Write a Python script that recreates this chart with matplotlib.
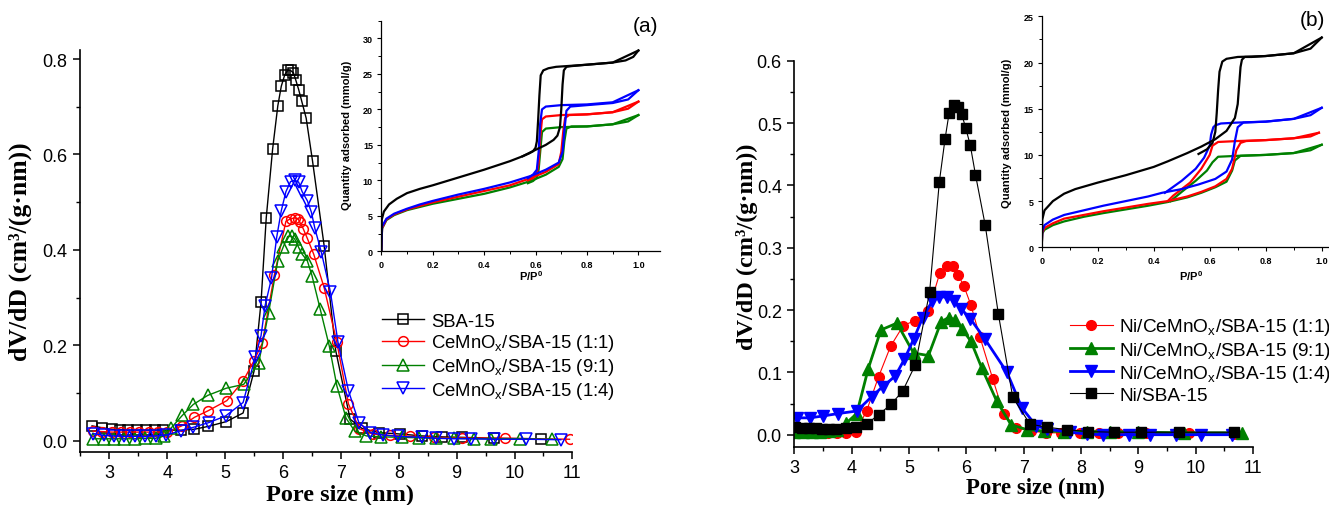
import matplotlib
matplotlib.use("Agg")
import matplotlib.pyplot as plt
from matplotlib.ticker import MultipleLocator, FixedLocator

plt.rcParams['font.family'] = ['Liberation Sans', 'DejaVu Sans']
plt.rcParams['mathtext.fontset'] = 'custom'
plt.rcParams['mathtext.rm'] = 'Liberation Sans'
plt.rcParams['mathtext.bf'] = 'Liberation Sans:bold'
plt.rcParams['mathtext.default'] = 'regular'

# ---------------- panel (a): pore size distribution ----------------
a_sba_x = [2.70, 2.88, 3.04, 3.18, 3.33, 3.48, 3.63, 3.78, 3.93, 4.24, 4.47, 4.71, 5.02, 5.31,
           5.50, 5.62, 5.71, 5.82, 5.91, 5.97, 6.03, 6.08, 6.13, 6.18, 6.22, 6.27, 6.32, 6.40,
           6.51, 6.71, 6.91, 7.16, 7.36, 7.65, 8.02, 8.40, 8.75, 9.10, 9.65, 10.45]
a_sba_y = [0.031, 0.027, 0.024, 0.023, 0.022, 0.022, 0.022, 0.022, 0.022, 0.022, 0.024, 0.030,
           0.040, 0.058, 0.146, 0.290, 0.467, 0.611, 0.702, 0.743, 0.767, 0.776, 0.776, 0.771,
           0.756, 0.736, 0.713, 0.676, 0.586, 0.409, 0.189, 0.045, 0.026, 0.017, 0.014, 0.010,
           0.008, 0.007, 0.005, 0.004]

a_11_x = [2.72, 2.88, 3.04, 3.20, 3.36, 3.52, 3.68, 3.84, 4.00, 4.25, 4.47, 4.71, 5.03, 5.31,
          5.50, 5.64, 5.85, 6.05, 6.13, 6.20, 6.26, 6.29, 6.35, 6.42, 6.53, 6.71, 6.93, 7.13,
          7.32, 7.55, 7.85, 8.20, 8.60, 9.10, 9.84, 10.95]
a_11_y = [0.020, 0.019, 0.018, 0.018, 0.018, 0.018, 0.018, 0.018, 0.018, 0.031, 0.049, 0.063,
          0.084, 0.125, 0.168, 0.204, 0.347, 0.460, 0.465, 0.467, 0.465, 0.458, 0.444, 0.424,
          0.391, 0.321, 0.206, 0.077, 0.025, 0.014, 0.011, 0.009, 0.007, 0.006, 0.005, 0.003]

a_91_x = [2.72, 2.90, 3.08, 3.26, 3.44, 3.62, 3.80, 3.95, 4.07, 4.26, 4.45, 4.70, 5.02, 5.32,
          5.58, 5.75, 5.91, 6.00, 6.08, 6.15, 6.20, 6.27, 6.33, 6.42, 6.50, 6.64, 6.80, 6.93,
          7.09, 7.24, 7.44, 7.70, 8.05, 8.35, 8.65, 8.95, 9.30, 9.60, 10.10, 10.65]
a_91_y = [0.004, 0.004, 0.004, 0.004, 0.004, 0.005, 0.005, 0.010, 0.027, 0.053, 0.076, 0.095,
          0.110, 0.118, 0.163, 0.268, 0.377, 0.405, 0.428, 0.428, 0.423, 0.405, 0.391, 0.377,
          0.346, 0.277, 0.198, 0.115, 0.047, 0.020, 0.010, 0.008, 0.007, 0.006, 0.005, 0.005,
          0.004, 0.004, 0.004, 0.003]

a_14_x = [2.72, 2.90, 3.08, 3.26, 3.44, 3.62, 3.80, 3.98, 4.24, 4.45, 4.72, 5.01, 5.31, 5.52,
          5.62, 5.69, 5.80, 5.89, 5.97, 6.05, 6.13, 6.20, 6.27, 6.33, 6.42, 6.49, 6.55, 6.66,
          6.82, 6.95, 7.13, 7.31, 7.51, 7.72, 7.98, 8.40, 8.65, 8.95, 9.25, 9.65, 10.20, 10.80]
a_14_y = [0.015, 0.011, 0.010, 0.009, 0.009, 0.009, 0.010, 0.012, 0.021, 0.028, 0.038, 0.052,
          0.080, 0.175, 0.220, 0.283, 0.340, 0.426, 0.482, 0.522, 0.543, 0.546, 0.542, 0.522,
          0.503, 0.479, 0.445, 0.396, 0.311, 0.206, 0.105, 0.038, 0.017, 0.012, 0.009, 0.007,
          0.005, 0.004, 0.004, 0.003, 0.003, 0.002]

# inset (a): isotherms, adsorption (ads) and desorption (des) branches
ia_blk_ads_p = [0, 0.002, 0.01, 0.03, 0.06, 0.10, 0.15, 0.20, 0.30, 0.40, 0.50, 0.55, 0.60, 0.64,
                0.67, 0.685, 0.695, 0.700, 0.705, 0.710, 0.720, 0.740, 0.80, 0.90, 0.95, 0.98, 1.0]
ia_blk_ads_q = [0, 4.5, 5.6, 6.6, 7.4, 8.2, 8.8, 9.3, 10.4, 11.5, 12.7, 13.4, 14.3, 15.0, 15.7,
                16.3, 17.5, 20.0, 23.5, 25.5, 26.0, 26.1, 26.3, 26.6, 26.9, 27.4, 28.3]
ia_blk_des_p = [1.0, 0.90, 0.80, 0.72, 0.68, 0.65, 0.63, 0.62, 0.615, 0.61, 0.605, 0.60, 0.59,
                0.575, 0.55]
ia_blk_des_q = [28.3, 26.6, 26.3, 26.1, 26.0, 25.8, 25.5, 24.8, 22.0, 18.5, 15.5, 14.6, 14.1,
                13.8, 13.4]

ia_blu_ads_p = [0, 0.003, 0.02, 0.05, 0.10, 0.15, 0.20, 0.30, 0.40, 0.50, 0.58, 0.64, 0.69,
                0.705, 0.712, 0.720, 0.735, 0.80, 0.90, 0.96, 1.0]
ia_blu_ads_q = [0, 3.5, 4.6, 5.3, 6.0, 6.6, 7.1, 8.0, 8.8, 9.7, 10.6, 11.5, 12.5, 14.0, 17.0,
                19.8, 20.4, 20.6, 20.9, 21.4, 22.7]
ia_blu_des_p = [1.0, 0.90, 0.80, 0.70, 0.64, 0.625, 0.618, 0.612, 0.605, 0.59, 0.57]
ia_blu_des_q = [22.7, 21.0, 20.7, 20.6, 20.4, 20.0, 18.0, 14.0, 11.5, 10.8, 10.3]

ia_red_ads_p = [0, 0.003, 0.02, 0.05, 0.10, 0.20, 0.30, 0.40, 0.50, 0.58, 0.64, 0.69, 0.700,
                0.708, 0.715, 0.730, 0.80, 0.90, 0.96, 1.0]
ia_red_ads_q = [0, 3.3, 4.5, 5.2, 5.9, 6.9, 7.7, 8.5, 9.3, 10.3, 11.2, 12.3, 14.0, 17.0, 18.8,
                19.2, 19.3, 19.6, 20.1, 21.1]
ia_red_des_p = [1.0, 0.90, 0.80, 0.70, 0.64, 0.625, 0.618, 0.612, 0.605, 0.59, 0.57]
ia_red_des_q = [21.1, 19.6, 19.3, 19.2, 19.0, 18.6, 16.0, 12.5, 11.0, 10.3, 10.0]

ia_grn_ads_p = [0, 0.003, 0.02, 0.05, 0.10, 0.20, 0.30, 0.40, 0.50, 0.58, 0.64, 0.69, 0.705,
                0.712, 0.720, 0.740, 0.80, 0.90, 0.96, 1.0]
ia_grn_ads_q = [0, 3.2, 4.4, 5.1, 5.8, 6.7, 7.4, 8.1, 9.0, 9.9, 10.8, 11.9, 13.0, 15.5, 17.3,
                17.6, 17.6, 17.9, 18.3, 19.2]
ia_grn_des_p = [1.0, 0.90, 0.80, 0.70, 0.64, 0.625, 0.618, 0.612, 0.605, 0.59, 0.57]
ia_grn_des_q = [19.2, 17.9, 17.6, 17.5, 17.3, 16.8, 14.0, 11.5, 10.4, 9.9, 9.6]

# ---------------- panel (b): pore size distribution ----------------
b_11_x = [3.59, 3.74, 3.90, 4.07, 4.26, 4.47, 4.68, 4.90, 5.10, 5.34, 5.54, 5.66, 5.76, 5.86,
          5.96, 6.08, 6.24, 6.46, 6.65, 6.87, 7.12, 7.39, 7.65, 7.98, 8.32, 8.65, 9.14, 9.88, 10.66]
b_11_y = [0.002, 0.002, 0.002, 0.004, 0.038, 0.093, 0.142, 0.175, 0.183, 0.199, 0.260, 0.271,
          0.270, 0.256, 0.238, 0.208, 0.156, 0.090, 0.034, 0.011, 0.006, 0.003, 0.003, 0.002,
          0.002, 0.002, 0.002, 0.002, 0.001]

b_91_x = [3.00, 3.15, 3.30, 3.45, 3.60, 3.75, 3.90, 4.09, 4.29, 4.51, 4.79, 5.08, 5.34, 5.56,
          5.69, 5.81, 5.93, 6.08, 6.27, 6.53, 6.78, 7.06, 7.35, 7.70, 8.10, 8.50, 9.00, 9.80, 10.81]
b_91_y = [0.005, 0.005, 0.005, 0.005, 0.006, 0.008, 0.018, 0.034, 0.106, 0.168, 0.179, 0.131,
          0.127, 0.181, 0.188, 0.184, 0.169, 0.150, 0.107, 0.054, 0.016, 0.008, 0.006, 0.005,
          0.005, 0.005, 0.004, 0.003, 0.003]

b_14_x = [3.04, 3.27, 3.50, 3.77, 4.09, 4.35, 4.54, 4.76, 4.92, 5.08, 5.24, 5.41, 5.53, 5.66,
          5.79, 5.91, 6.07, 6.32, 6.71, 6.97, 7.22, 7.41, 7.80, 8.10, 8.39, 8.84, 9.21, 9.66,
          10.10, 10.63]
b_14_y = [0.027, 0.027, 0.030, 0.034, 0.038, 0.061, 0.077, 0.094, 0.121, 0.153, 0.188, 0.215,
          0.221, 0.221, 0.215, 0.202, 0.186, 0.154, 0.100, 0.043, 0.014, 0.009, 0.004, 0.001,
          0.0, 0.0, 0.0, 0.0, 0.0, 0.0]

b_ni_x = [3.02, 3.13, 3.25, 3.37, 3.49, 3.61, 3.73, 3.90, 4.08, 4.26, 4.47, 4.69, 4.89, 5.11,
          5.36, 5.53, 5.63, 5.70, 5.79, 5.86, 5.92, 5.99, 6.07, 6.16, 6.33, 6.56, 6.81, 7.11,
          7.41, 7.76, 8.13, 8.57, 9.04, 9.71, 10.67]
b_ni_y = [0.013, 0.011, 0.010, 0.010, 0.009, 0.009, 0.009, 0.010, 0.012, 0.017, 0.032, 0.049,
          0.070, 0.112, 0.229, 0.406, 0.475, 0.516, 0.529, 0.526, 0.514, 0.492, 0.464, 0.417,
          0.336, 0.193, 0.060, 0.017, 0.012, 0.008, 0.005, 0.004, 0.004, 0.004, 0.004]

# inset (b)
ib_blk_ads_p = [0, 0.002, 0.01, 0.04, 0.08, 0.12, 0.20, 0.30, 0.40, 0.45, 0.52, 0.57, 0.62,
                0.66, 0.69, 0.700, 0.705, 0.710, 0.715, 0.725, 0.75, 0.80, 0.90, 0.96, 1.0]
ib_blk_ads_q = [0, 3.0, 4.0, 5.0, 5.8, 6.3, 7.0, 7.8, 8.7, 9.3, 10.2, 10.9, 11.7, 12.6, 14.0,
                15.5, 17.5, 19.5, 20.3, 20.6, 20.6, 20.7, 21.0, 21.5, 22.7]
ib_blk_des_p = [1.0, 0.90, 0.80, 0.70, 0.66, 0.645, 0.635, 0.63, 0.625, 0.62, 0.61, 0.59, 0.56]
ib_blk_des_q = [22.7, 21.0, 20.7, 20.6, 20.4, 20.1, 19.0, 17.0, 14.5, 12.5, 11.3, 10.6, 10.1]

ib_blu_ads_p = [0, 0.002, 0.01, 0.04, 0.08, 0.15, 0.22, 0.30, 0.38, 0.43, 0.50, 0.56, 0.62,
                0.66, 0.68, 0.69, 0.70, 0.72, 0.80, 0.90, 0.96, 1.0]
ib_blu_ads_q = [0, 1.8, 2.4, 3.0, 3.5, 4.0, 4.5, 5.0, 5.5, 5.9, 6.3, 6.8, 7.4, 8.2, 9.5, 11.5,
                13.0, 13.5, 13.6, 13.9, 14.3, 15.1]
ib_blu_des_p = [1.0, 0.90, 0.80, 0.70, 0.64, 0.62, 0.613, 0.605, 0.60, 0.58, 0.55, 0.50, 0.44]
ib_blu_des_q = [15.1, 13.9, 13.6, 13.5, 13.4, 13.2, 13.0, 12.2, 11.0, 9.7, 8.5, 7.2, 5.9]

ib_red_ads_p = [0, 0.002, 0.01, 0.04, 0.08, 0.15, 0.22, 0.30, 0.38, 0.45, 0.52, 0.57, 0.62,
                0.66, 0.68, 0.695, 0.71, 0.73, 0.80, 0.90, 0.96, 0.99]
ib_red_ads_q = [0, 1.6, 2.1, 2.6, 3.1, 3.5, 3.9, 4.3, 4.7, 5.0, 5.5, 6.0, 6.6, 7.4, 8.5, 10.5,
                11.3, 11.5, 11.6, 11.8, 12.0, 12.4]
ib_red_des_p = [0.99, 0.90, 0.80, 0.70, 0.63, 0.61, 0.60, 0.57, 0.53, 0.47, 0.45]
ib_red_des_q = [12.4, 11.8, 11.6, 11.5, 11.4, 11.0, 10.0, 8.5, 7.0, 5.6, 5.0]

ib_grn_ads_p = [0, 0.002, 0.01, 0.04, 0.08, 0.15, 0.22, 0.30, 0.38, 0.45, 0.52, 0.57, 0.62,
                0.66, 0.68, 0.69, 0.71, 0.80, 0.90, 0.96, 1.0]
ib_grn_ads_q = [0, 1.5, 1.9, 2.4, 2.8, 3.3, 3.7, 4.1, 4.5, 4.9, 5.4, 5.9, 6.5, 7.1, 8.3, 9.4,
                9.9, 10.0, 10.2, 10.5, 11.1]
ib_grn_des_p = [1.0, 0.90, 0.80, 0.70, 0.63, 0.61, 0.59, 0.55, 0.50, 0.46]
ib_grn_des_q = [11.1, 10.2, 10.0, 9.9, 9.8, 9.2, 8.3, 7.2, 6.0, 5.0]

a_labels = ['SBA-15', 'CeMnO$_{x}$/SBA-15 (1:1)', 'CeMnO$_{x}$/SBA-15 (9:1)',
            'CeMnO$_{x}$/SBA-15 (1:4)']
b_labels = ['Ni/CeMnO$_{x}$/SBA-15 (1:1)', 'Ni/CeMnO$_{x}$/SBA-15 (9:1)',
            'Ni/CeMnO$_{x}$/SBA-15 (1:4)', 'Ni/SBA-15']

W, H = 1329, 506
fig = plt.figure(figsize=(W / 100, H / 100), dpi=100)


def px_axes(left, top, right, bottom):
    return fig.add_axes([left / W, 1 - bottom / H, (right - left) / W, (bottom - top) / H])


def style_main(ax):
    for s in ['top', 'right']:
        ax.spines[s].set_visible(False)
    for s in ['left', 'bottom']:
        ax.spines[s].set_linewidth(1.2)
    ax.tick_params(which='major', direction='out', length=5, width=1.1, labelsize=13, pad=4)
    ax.tick_params(which='minor', direction='out', length=3, width=1.0)


def style_inset(ax):
    ax.set_facecolor('none')
    for s in ['top', 'right']:
        ax.spines[s].set_visible(False)
    for s in ['left', 'bottom']:
        ax.spines[s].set_linewidth(0.9)
    ax.tick_params(which='major', direction='out', length=3, width=0.8, labelsize=6.5, pad=3)
    ax.tick_params(which='minor', direction='out', length=2, width=0.7)
    for lab in ax.get_xticklabels() + ax.get_yticklabels():
        lab.set_fontweight('bold')


serif_bold = dict(family='Liberation Serif', fontweight='bold')

# ---- panel (a)
axa = px_axes(80, 50.7, 572.4, 452.7)
mk = dict(mfc='none', mew=1.1, lw=1.0)
axa.plot(a_sba_x, a_sba_y, color='black', marker='s', ms=6.5, label=a_labels[0], **mk)
axa.plot(a_11_x, a_11_y, color='red', marker='o', ms=7, label=a_labels[1], **mk)
axa.plot(a_91_x, a_91_y, color='green', marker='^', ms=8, label=a_labels[2], **mk)
axa.plot(a_14_x, a_14_y, color='blue', marker='v', ms=8, label=a_labels[3], **mk)
axa.set_xlim(2.492, 11)
axa.set_ylim(-0.0231, 0.8195)
axa.xaxis.set_major_locator(MultipleLocator(1))
axa.xaxis.set_minor_locator(MultipleLocator(0.5))
axa.yaxis.set_major_locator(MultipleLocator(0.2))
axa.yaxis.set_minor_locator(MultipleLocator(0.1))
axa.yaxis.set_major_formatter(matplotlib.ticker.FormatStrFormatter('%.1f'))
style_main(axa)
axa.legend(loc='center left', bbox_to_anchor=(382 / W, 1 - 357.7 / H), bbox_transform=fig.transFigure,
           frameon=False, borderpad=0, borderaxespad=0, handlelength=2.3, handletextpad=0.35,
           labelspacing=0.15, fontsize=13.3)
fig.text(20 / W, 1 - 252 / H, 'dV/dD (cm³/(g·nm))', rotation=90, ha='center', va='center',
         fontsize=18.5, **serif_bold)
fig.text(340 / W, 1 - 495 / H, 'Pore size (nm)', ha='center', va='center', fontsize=17.5,
         **serif_bold)

# ---- inset (a)
ina = px_axes(381.3, 21.7, 660, 252.3)
for pa, qa, pd, qd, c in [
        (ia_grn_ads_p, ia_grn_ads_q, ia_grn_des_p, ia_grn_des_q, 'green'),
        (ia_red_ads_p, ia_red_ads_q, ia_red_des_p, ia_red_des_q, 'red'),
        (ia_blu_ads_p, ia_blu_ads_q, ia_blu_des_p, ia_blu_des_q, 'blue'),
        (ia_blk_ads_p, ia_blk_ads_q, ia_blk_des_p, ia_blk_des_q, 'black')]:
    ina.plot(pa, qa, color=c, lw=1.6)
    ina.plot(pd, qd, color=c, lw=1.6)
ina.set_xlim(0, 1.084)
ina.set_ylim(0, 32.5)
ina.xaxis.set_major_locator(FixedLocator([0, 0.2, 0.4, 0.6, 0.8, 1.0]))
ina.xaxis.set_minor_locator(FixedLocator([0.1, 0.3, 0.5, 0.7, 0.9]))
ina.yaxis.set_major_locator(MultipleLocator(5))
ina.yaxis.set_minor_locator(MultipleLocator(2.5))
ina.set_xticklabels(['0', '0.2', '0.4', '0.6', '0.8', '1.0'])
style_inset(ina)
fig.text(347 / W, 1 - 135 / H, 'Quantity adsorbed (mmol/g)', rotation=90, ha='center', va='center',
         fontsize=8, fontweight='bold')
fig.text(531 / W, 1 - 276 / H, r'P/P$^{\mathbf{0}}$', ha='center', va='center', fontsize=8,
         fontweight='bold')
fig.text(646 / W, 1 - 26 / H, '(a)', ha='center', va='center', fontsize=15)

# ---- panel (b)
axb = px_axes(794.3, 61.7, 1253, 447.7)
axb.plot(b_11_x, b_11_y, color='red', marker='o', ms=7, lw=0.8, label=b_labels[0])
axb.plot(b_91_x, b_91_y, color='green', marker='^', ms=8, lw=2.0, label=b_labels[1])
axb.plot(b_14_x, b_14_y, color='blue', marker='v', ms=8, lw=2.0, label=b_labels[2])
axb.plot(b_ni_x, b_ni_y, color='black', marker='s', ms=6.5, lw=0.8, label=b_labels[3])
axb.set_xlim(3, 11)
axb.set_ylim(-0.01925, 0.6)
axb.xaxis.set_major_locator(MultipleLocator(1))
axb.xaxis.set_minor_locator(MultipleLocator(0.5))
axb.yaxis.set_major_locator(MultipleLocator(0.1))
axb.yaxis.set_minor_locator(MultipleLocator(0.05))
axb.yaxis.set_major_formatter(matplotlib.ticker.FormatStrFormatter('%.1f'))
style_main(axb)
axb.legend(loc='center left', bbox_to_anchor=(1069.6 / W, 1 - 361 / H), bbox_transform=fig.transFigure,
           frameon=False, borderpad=0, borderaxespad=0, handlelength=2.3, handletextpad=0.3,
           labelspacing=0.12, fontsize=13.7)
fig.text(747 / W, 1 - 247 / H, 'dV/dD (cm³/(g·nm))', rotation=90, ha='center', va='center',
         fontsize=17.5, **serif_bold)
fig.text(1035 / W, 1 - 488 / H, 'Pore size (nm)', ha='center', va='center', fontsize=16.5,
         **serif_bold)

# ---- inset (b)
inb = px_axes(1041.7, 17.3, 1329, 248.3)
for pa, qa, pd, qd, c in [
        (ib_grn_ads_p, ib_grn_ads_q, ib_grn_des_p, ib_grn_des_q, 'green'),
        (ib_red_ads_p, ib_red_ads_q, ib_red_des_p, ib_red_des_q, 'red'),
        (ib_blu_ads_p, ib_blu_ads_q, ib_blu_des_p, ib_blu_des_q, 'blue'),
        (ib_blk_ads_p, ib_blk_ads_q, ib_blk_des_p, ib_blk_des_q, 'black')]:
    inb.plot(pa, qa, color=c, lw=1.6)
    inb.plot(pd, qd, color=c, lw=1.6)
inb.set_xlim(0, 1.026)
inb.set_ylim(0, 25)
inb.xaxis.set_major_locator(FixedLocator([0, 0.2, 0.4, 0.6, 0.8, 1.0]))
inb.xaxis.set_minor_locator(FixedLocator([0.1, 0.3, 0.5, 0.7, 0.9]))
inb.yaxis.set_major_locator(MultipleLocator(5))
inb.yaxis.set_minor_locator(MultipleLocator(2.5))
inb.set_xticklabels(['0', '0.2', '0.4', '0.6', '0.8', '1.0'])
style_inset(inb)
fig.text(1007 / W, 1 - 133 / H, 'Quantity adsorbed (mmol/g)', rotation=90, ha='center',
         va='center', fontsize=8, fontweight='bold')
fig.text(1191 / W, 1 - 276 / H, r'P/P$^{\mathbf{0}}$', ha='center', va='center', fontsize=8,
         fontweight='bold')
fig.text(1312 / W, 1 - 21 / H, '(b)', ha='center', va='center', fontsize=15)

fig.savefig('out.png', dpi=100)
